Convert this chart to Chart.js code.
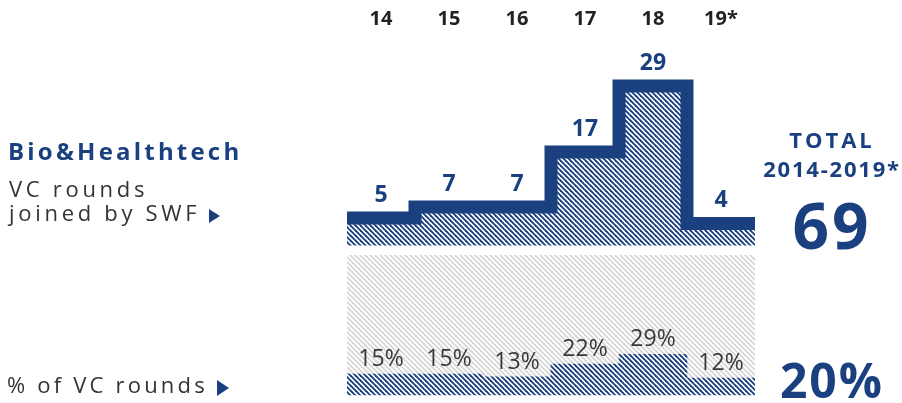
<!DOCTYPE html>
<html>
<head>
<meta charset="utf-8">
<script src="https://cdn.jsdelivr.net/npm/chart.js@4.4.1/dist/chart.umd.min.js"></script>
<style>
    html, body { margin: 0; padding: 0; background: #fff; }
    #wrap { position: relative; width: 902px; height: 403px; overflow: hidden; font-family: 'Open Sans', sans-serif; }
    #chart { position: absolute; left: 0; top: 0; }
    .t { position: absolute; white-space: nowrap; line-height: 1; }
    .navy { color: #1b4080; font-weight: 700; }
    .grey { color: #333333; font-weight: 400; }
    .arrow { display: inline-block; width: 0; height: 0; border-left: 11px solid #1b4080; border-top: 7px solid transparent; border-bottom: 7px solid transparent; margin-left: 9px; vertical-align: -2px; }
    .right { left: 752px; width: 160px; text-align: center; }
</style>
</head>
<body>
<div id="wrap">
    <canvas id="chart" width="902" height="403"></canvas>

    <div class="t navy" style="left:8px; top:139px; font-size:24px; letter-spacing:3.2px;">Bio&amp;Healthtech</div>
    <div class="t grey" style="left:9px; top:177px; font-size:22px; letter-spacing:3.7px;">VC rounds</div>
    <div class="t grey" style="left:9px; top:201px; font-size:22px; letter-spacing:3.7px;">joined by SWF<span class="arrow"></span></div>
    <div class="t grey" style="left:7px; top:373px; font-size:22px; letter-spacing:3.2px;">% of VC rounds<span class="arrow" style="border-left-width:12px; border-top-width:8px; border-bottom-width:8px; vertical-align:-3px;"></span></div>

    <div class="t navy right" style="top:128px; font-size:22px; letter-spacing:3px;">TOTAL</div>
    <div class="t navy right" style="top:157px; font-size:22px; letter-spacing:1.8px;">2014-2019*</div>
    <div class="t navy right" style="top:193px; font-size:64px; letter-spacing:3px;">69</div>
    <div class="t navy right" style="top:356px; font-size:48px; letter-spacing:2px;">20%</div>
</div>

<script>
// Data
const years = ['14', '15', '16', '17', '18', '19*'];
const vcRounds = [5, 7, 7, 17, 29, 4];      // VC rounds joined by SWF
const vcShare = [15, 15, 13, 22, 29, 12];   // % of VC rounds
const shareMax = 100;

// Layout (pixels on a 902x403 canvas)
const H = 403;
const PLOT_LEFT = 347, PLOT_RIGHT = 755;
const ROUNDS_BASE_Y = 245.5, PX_PER_ROUND = 5.5;
const SHARE_BASE_Y = 395, PX_PER_PCT = 1.4;

const NAVY = '#1b4080';

// Diagonal hatch pattern ("\" direction)
function makeHatch(fg, bg, period, lw) {
    const c = document.createElement('canvas');
    c.width = c.height = period;
    const g = c.getContext('2d');
    g.fillStyle = bg;
    g.fillRect(0, 0, period, period);
    g.strokeStyle = fg;
    g.lineWidth = lw;
    for (const o of [-period, 0, period]) {
        g.beginPath();
        g.moveTo(o - period, -period);
        g.lineTo(o + 2 * period, 2 * period);
        g.stroke();
    }
    return g.createPattern(c, 'repeat');
}

const navyHatch = makeHatch(NAVY, '#ffffff', 5, 1.9);
const greyHatch = makeHatch('#d6d6d6', '#ffffff', 5, 1.7);

// Step points: each year's value held across its column
const stepPoints = vcRounds.map((v, i) => ({ x: i, y: v }));
stepPoints.push({ x: vcRounds.length, y: vcRounds[vcRounds.length - 1] });

const sharePoints = vcShare.map((v, i) => ({ x: i + 0.5, y: v }));

// Light hatched 100% backdrop behind the share bars
const backdropPlugin = {
    id: 'backdrop',
    beforeDatasetsDraw(chart) {
        const { ctx, scales: { x, y2 } } = chart;
        const left = x.getPixelForValue(0);
        const right = x.getPixelForValue(years.length);
        const top = y2.getPixelForValue(shareMax);
        const bottom = y2.getPixelForValue(0);
        ctx.save();
        ctx.fillStyle = greyHatch;
        ctx.fillRect(left, top, right - left, bottom - top);
        ctx.restore();
    }
};

// Year labels, round counts and share labels
const labelPlugin = {
    id: 'labels',
    afterDatasetsDraw(chart) {
        const { ctx, scales: { x, y, y2 } } = chart;
        ctx.save();
        ctx.textAlign = 'center';
        ctx.textBaseline = 'alphabetic';
        years.forEach((label, i) => {
            const cx = x.getPixelForValue(i + 0.5);

            ctx.font = "700 20px 'Open Sans', sans-serif";
            ctx.fillStyle = '#222222';
            ctx.fillText(label, cx, 24.5);

            ctx.font = "700 23px 'Open Sans', sans-serif";
            ctx.fillStyle = NAVY;
            ctx.fillText(String(vcRounds[i]), cx, y.getPixelForValue(vcRounds[i]) - 16.5);

            ctx.font = "400 23px 'Open Sans', sans-serif";
            ctx.fillStyle = '#383838';
            ctx.fillText(vcShare[i] + '%', cx, y2.getPixelForValue(vcShare[i]) - 8);
        });
        ctx.restore();
    }
};

new Chart(document.getElementById('chart'), {
    type: 'line',
    data: {
        datasets: [
            {
                type: 'line',
                data: stepPoints,
                yAxisID: 'y',
                stepped: true,
                borderColor: NAVY,
                borderWidth: 13,
                borderJoinStyle: 'miter',
                borderCapStyle: 'butt',
                backgroundColor: navyHatch,
                fill: 'origin',
                pointRadius: 0,
                pointHoverRadius: 0,
                order: 0
            },
            {
                type: 'bar',
                data: sharePoints,
                yAxisID: 'y2',
                backgroundColor: navyHatch,
                borderWidth: 0,
                barPercentage: 1,
                categoryPercentage: 1,
                order: 1
            }
        ]
    },
    options: {
        responsive: false,
        animation: false,
        devicePixelRatio: 1,
        layout: {
            autoPadding: false,
            padding: { left: PLOT_LEFT, right: 902 - PLOT_RIGHT, top: 0, bottom: 0 }
        },
        plugins: {
            legend: { display: false },
            tooltip: { enabled: false }
        },
        scales: {
            x: { type: 'linear', min: 0, max: years.length, offset: false, display: false },
            y: {
                min: (ROUNDS_BASE_Y - H) / PX_PER_ROUND,
                max: ROUNDS_BASE_Y / PX_PER_ROUND,
                display: false
            },
            y2: {
                min: (SHARE_BASE_Y - H) / PX_PER_PCT,
                max: SHARE_BASE_Y / PX_PER_PCT,
                display: false
            }
        }
    },
    plugins: [backdropPlugin, labelPlugin]
});
</script>
</body>
</html>
